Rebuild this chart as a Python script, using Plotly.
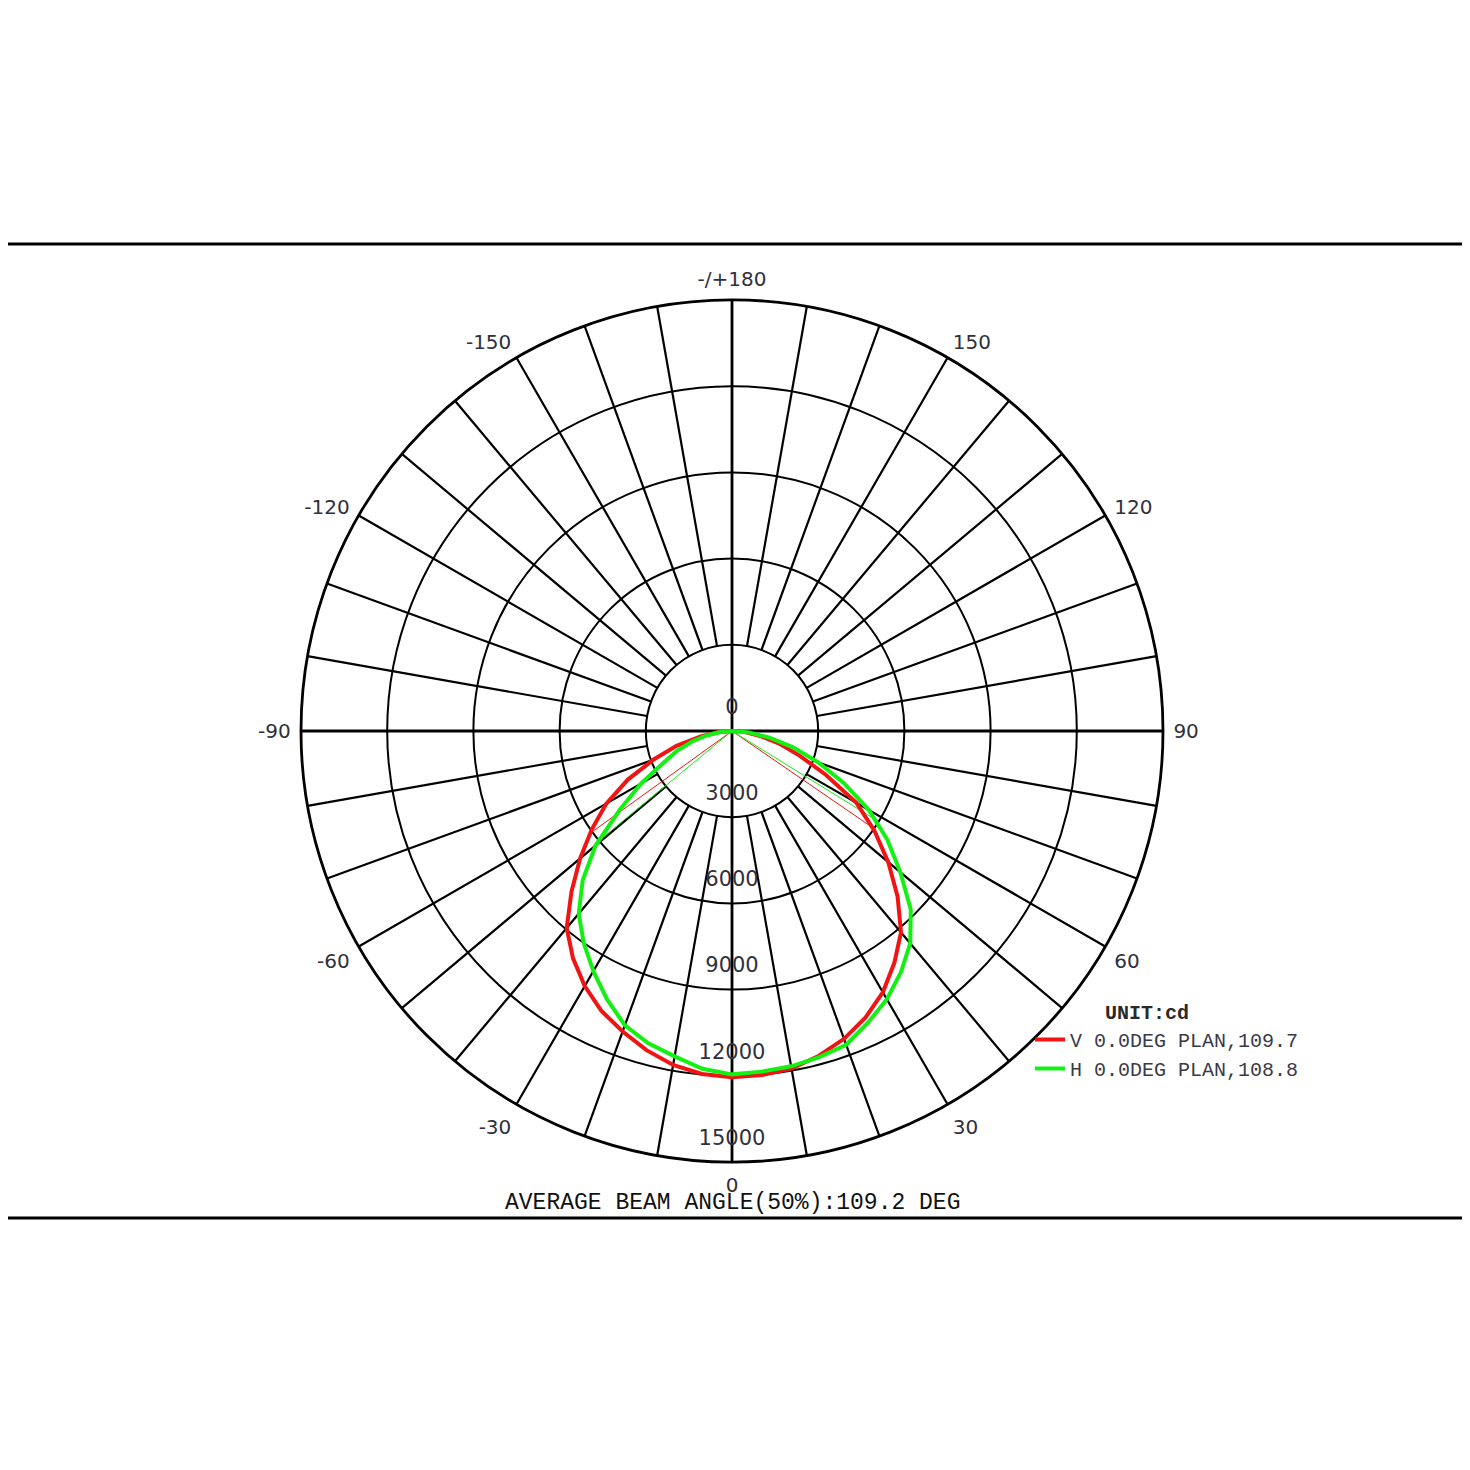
import plotly.graph_objects as go

# Luminous intensity (cd) against angle from nadir, V and H planes
angles = [-90, -85, -80, -75, -70, -65, -60, -55, -50, -45, -40, -35, -30, -25, -20, -15, -10, -5,
          0, 5, 10, 15, 20, 25, 30, 35, 40, 45, 50, 55, 60, 65, 70, 75, 80, 85, 90]
v_cd = [0, 500, 1100, 2000, 2900, 4000, 5050, 5950, 6900, 7900, 8950, 9650, 10250, 10750, 11130, 11500, 11800, 11980,
        12050, 12020, 11930, 11700, 11400, 11000, 10500, 9850, 9150, 8150, 7100, 6050, 5000, 3600, 2500, 1700, 1000, 450, 0]
h_cd = [0, 400, 900, 1450, 2050, 2650, 3650, 4750, 6200, 7350, 8300, 9000, 9650, 10300, 10900, 11250, 11500, 11800,
        11950, 11900, 11850, 11750, 11620, 11200, 10780, 10250, 9650, 8800, 7650, 6600, 5500, 4300, 3200, 2200, 1300, 600, 0]

# 50% beam edges (left edge -> centre -> right edge)
v_beam_theta = [-54.2, 0, 55.5]
v_beam_cd = [6025, 0, 6025]
h_beam_theta = [-50.5, 0, 58.3]
h_beam_cd = [5975, 0, 5975]

ring_vals = [0, 3000, 6000, 9000, 12000, 15000]
angle_ticks = [-150, -120, -90, -60, -30, 0, 30, 60, 90, 120, 150, 180]
angle_text = ['-150', '-120', '-90', '-60', '-30', '0', '30', '60', '90', '120', '150', '-/+180']

v_name = 'V 0.0DEG PLAN,109.7'
h_name = 'H 0.0DEG PLAN,108.8'
unit_text = 'UNIT:cd'
avg_text = 'AVERAGE BEAM ANGLE(50%):109.2 DEG'

R_MAX = 15000
R_IN = 3000
W = H = 1470
OFF = 8  # page margin of the html body
CX, CY, RAD = 732 - OFF, 731 - OFF, 431

mono = 'Courier New, Liberation Mono, monospace'
sans = 'DejaVu Sans, Verdana, sans-serif'
red = '#f01414'
green = '#14f014'
label_col = '#30303c'

fig = go.Figure()

# spokes every 10 deg, starting at the inner ring
sp_theta, sp_r = [], []
for a in range(0, 360, 10):
    if a % 90:
        sp_theta += [a, a, None]
        sp_r += [R_IN, R_MAX, None]
fig.add_trace(go.Scatterpolar(r=sp_r, theta=sp_theta, mode='lines',
                              line=dict(color='black', width=2.2),
                              showlegend=False, hoverinfo='skip'))

# main cross through the centre
fig.add_trace(go.Scatterpolar(r=[R_MAX, 0, R_MAX, None, R_MAX, 0, R_MAX],
                              theta=[0, 0, 180, None, 90, 90, 270], mode='lines',
                              line=dict(color='black', width=2.8),
                              showlegend=False, hoverinfo='skip'))

# beam angle lines
fig.add_trace(go.Scatterpolar(r=v_beam_cd, theta=v_beam_theta, mode='lines',
                              line=dict(color=red, width=1), showlegend=False))
fig.add_trace(go.Scatterpolar(r=h_beam_cd, theta=h_beam_theta, mode='lines',
                              line=dict(color=green, width=1), showlegend=False))

# intensity curves
fig.add_trace(go.Scatterpolar(r=v_cd, theta=angles, mode='lines', name=v_name,
                              line=dict(color=red, width=4)))
fig.add_trace(go.Scatterpolar(r=h_cd, theta=angles, mode='lines', name=h_name,
                              line=dict(color=green, width=4)))

# ring labels, sitting just inside each ring on the vertical axis
lab_off = 780
ring_r = [lab_off if v == 0 else v - lab_off for v in ring_vals]
ring_th = [180 if v == 0 else 0 for v in ring_vals]
fig.add_trace(go.Scatterpolar(r=ring_r, theta=ring_th, mode='text',
                              text=[str(v) for v in ring_vals], textposition='middle center',
                              textfont=dict(family=sans, size=21, color=label_col),
                              cliponaxis=False, showlegend=False, hoverinfo='skip'))

fig.update_layout(
    width=W, height=H,
    margin=dict(l=0, r=0, t=0, b=0),
    paper_bgcolor='white',
    polar=dict(
        domain=dict(x=[(CX - RAD) / W, (CX + RAD) / W],
                    y=[(H - CY - RAD) / H, (H - CY + RAD) / H]),
        bgcolor='white',
        radialaxis=dict(range=[0, R_MAX], tickvals=ring_vals[1:], showticklabels=False,
                        ticks='', showline=False, showgrid=True,
                        gridcolor='black', gridwidth=2.2),
        angularaxis=dict(rotation=-90, direction='counterclockwise', thetaunit='degrees',
                         tickmode='array', tickvals=[a % 360 for a in angle_ticks], ticktext=angle_text,
                         tickfont=dict(family=sans, size=20, color=label_col),
                         ticks='outside', ticklen=5, tickcolor='rgba(0,0,0,0)',
                         showgrid=False, showticklabels=True,
                         showline=True, linecolor='black', linewidth=2.8),
    ),
    legend=dict(x=(1030 - OFF) / W, y=1 - (1020 - OFF) / H, xanchor='left', yanchor='top',
                font=dict(family=mono, size=20, color='#3a3a48'),
                bgcolor='rgba(0,0,0,0)', tracegroupgap=0),
    shapes=[
        dict(type='line', xref='paper', yref='paper', x0=0, x1=1,
             y0=1 - (244 - OFF) / H, y1=1 - (244 - OFF) / H, line=dict(color='black', width=3)),
        dict(type='line', xref='paper', yref='paper', x0=0, x1=1,
             y0=1 - (1218 - OFF) / H, y1=1 - (1218 - OFF) / H, line=dict(color='black', width=3)),
    ],
    annotations=[
        dict(text='<b>' + unit_text + '</b>', x=(1147 - OFF) / W, y=1 - (1013 - OFF) / H,
             xref='paper', yref='paper', xanchor='center', yanchor='middle', showarrow=False,
             font=dict(family=mono, size=20, color='#2a2a2a')),
        dict(text=avg_text, x=CX / W, y=1 - (1203 - OFF) / H, xref='paper', yref='paper',
             xanchor='center', yanchor='middle', showarrow=False,
             font=dict(family=mono, size=23, color='#111111')),
    ],
)

fig.write_html('out.html')
